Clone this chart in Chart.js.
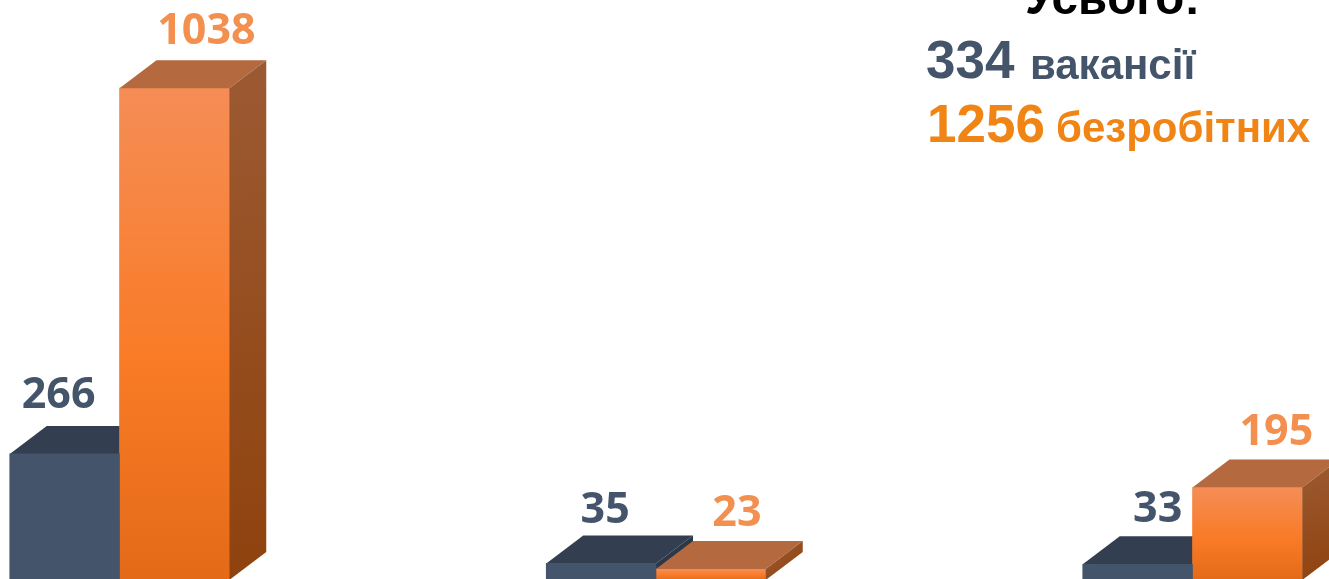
<!DOCTYPE html>
<html lang="uk">
<head>
<meta charset="utf-8">
<title>Вакансії та безробітні</title>
<script src="https://cdn.jsdelivr.net/npm/chart.js@4"></script>
<style>
  html, body { margin: 0; padding: 0; background: #fff; overflow: hidden; }
  #wrap { position: relative; width: 1329px; height: 579px; overflow: hidden; }
  #chart { display: block; }
  .sum { position: absolute; font-family: "Liberation Sans", Arial, sans-serif; font-weight: 700; white-space: nowrap; line-height: 1; }
</style>
</head>
<body>
<div id="wrap">
  <canvas id="chart" width="1329" height="580"></canvas>
  <div class="sum" style="left:1025px;top:-26px;font-size:47.5px;color:#000">Усього:</div>
  <div class="sum" style="left:926px;top:33px;font-size:53px;color:#44546a">334</div>
  <div class="sum" style="left:1030px;top:44px;font-size:42px;color:#44546a">вакансії</div>
  <div class="sum" style="left:927px;top:97px;font-size:53px;color:#f08515">1256</div>
  <div class="sum" style="left:1056px;top:107px;font-size:42px;color:#f08515">безробітних</div>
</div>
<script>
// ── DATA ──────────────────────────────────────────────────────────
const categories = ["Група 1", "Група 2", "Група 3"];
const vacancies = [266, 35, 33];
const unemployed = [1038, 23, 195];

// hand-placed label shifts in the original
const vacancyLabelShift = [[-6, -58], [4, -53], [20, -55]];
const unemployedLabelShift = [[32, -56], [26, -55], [29, -55]];

// ── 3D LOOK ───────────────────────────────────────────────────────
const DEPTH_X = 37;
const DEPTH_Y = 28;

function frontGradient(c) {
  const { chart, dataIndex } = c;
  const y = chart.scales.y;
  if (!chart.chartArea || !y || dataIndex === undefined) return "#f97c28";
  const top = y.getPixelForValue(unemployed[dataIndex]);
  const g = chart.ctx.createLinearGradient(0, top, 0, y.getPixelForValue(0));
  g.addColorStop(0, "#f58d56");
  g.addColorStop(0.55, "#f97b26");
  g.addColorStop(1, "#e46a18");
  return g;
}

function drawFaces(chart, dsIndex, topColor, sideColor) {
  const c = chart.ctx;
  chart.getDatasetMeta(dsIndex).data.forEach(bar => {
    const l = bar.x - bar.width / 2, r = bar.x + bar.width / 2;
    const t = bar.y, b = bar.base;
    c.fillStyle = topColor;
    c.beginPath();
    c.moveTo(l, t); c.lineTo(l + DEPTH_X, t - DEPTH_Y); c.lineTo(r + DEPTH_X, t - DEPTH_Y); c.lineTo(r, t);
    c.closePath(); c.fill();
    let side = sideColor;
    if (Array.isArray(sideColor)) {
      side = c.createLinearGradient(r, t - DEPTH_Y, r + DEPTH_X, b);
      side.addColorStop(0, sideColor[0]);
      side.addColorStop(1, sideColor[1]);
    }
    c.fillStyle = side;
    c.beginPath();
    c.moveTo(r, t); c.lineTo(r + DEPTH_X, t - DEPTH_Y); c.lineTo(r + DEPTH_X, b - DEPTH_Y); c.lineTo(r, b);
    c.closePath(); c.fill();
  });
}

const bars3d = {
  id: "bars3d",
  // navy faces go under every front, orange faces over them
  beforeDatasetsDraw(chart) {
    drawFaces(chart, 0, "#333f50", "#2c3848");
  },
  afterDatasetsDraw(chart) {
    drawFaces(chart, 1, "#b5693f", ["#9c5a33", "#8f420d"]);
    const c = chart.ctx;
    c.save();
    c.font = "700 43px 'Open Sans'";
    c.textAlign = "center";
    c.textBaseline = "middle";
    [[0, "#44546a", vacancyLabelShift], [1, "#f38f4f", unemployedLabelShift]].forEach(([i, col, shift]) => {
      c.fillStyle = col;
      chart.getDatasetMeta(i).data.forEach((bar, n) => {
        const v = chart.data.datasets[i].data[n];
        c.fillText(String(v), bar.x + shift[n][0], bar.y + shift[n][1]);
      });
    });
    c.restore();
  }
};

// ── CHART ─────────────────────────────────────────────────────────
new Chart(document.getElementById("chart"), {
  type: "bar",
  data: {
    labels: categories,
    datasets: [
      { label: "вакансії", data: vacancies, backgroundColor: "#44546a", barThickness: 109.75, clip: false },
      { label: "безробітних", data: unemployed, backgroundColor: frontGradient, barThickness: 109.75, clip: false }
    ]
  },
  options: {
    responsive: false,
    animation: false,
    layout: { padding: { left: 119.5, right: 136.5, top: 0, bottom: 0 } },
    plugins: { legend: { display: false }, tooltip: { enabled: false } },
    scales: {
      x: { display: false, offset: false },
      y: { display: false, min: 0, max: 1224 }
    }
  },
  plugins: [bars3d]
});
</script>
</body>
</html>
